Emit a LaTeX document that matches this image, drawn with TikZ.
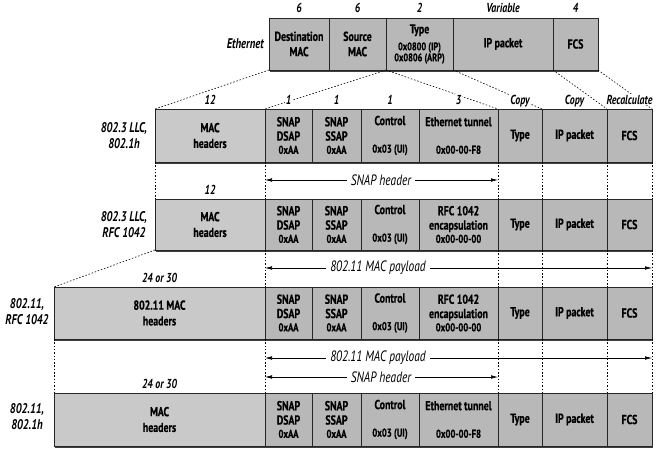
\documentclass[tikz,border=0pt]{standalone}
\usepackage{fontspec}
\newfontfamily\cf{PT Sans}[FakeStretch=0.76, BoldFeatures={FakeBold=0.6}]
\usetikzlibrary{shadows,arrows.meta}
\tikzset{
  fld/.style={draw=black!85, line width=0.8pt, fill=black!28, inner sep=0pt, outer sep=0pt,
    align=center, font=\cf\bfseries\fontsize{13}{14.3}\selectfont,
    drop shadow={shadow xshift=1.2pt, shadow yshift=-1.8pt, opacity=1, fill=black!75}},
  macfld/.style={fld, fill=black!21},
  num/.style={font=\cf\bfseries\itshape\fontsize{13}{15}\selectfont, inner sep=1pt, fill=white, anchor=base},
  rowlbl/.style={font=\cf\bfseries\itshape\fontsize{14}{15.5}\selectfont, align=center, inner sep=0pt},
  arlbl/.style={font=\cf\itshape\fontsize{15}{16}\selectfont, fill=white, inner xsep=4pt, inner ysep=1pt},
  dots/.style={line width=0.6pt, dash pattern=on 1.5pt off 1.8pt},
  dim/.style={line width=0.6pt, {Latex[length=7pt,width=3.6pt]}-{Latex[length=7pt,width=3.6pt]}},
}
\newcommand\sm{\fontsize{11.5}{12}\selectfont}
\newcommand\xs{\fontsize{11}{12}\selectfont}
% [style]{name}{x1}{x2}{ytop}{ybot}{text}
\newcommand\fieldbox[7][fld]{\node[#1, minimum width={(#4-#3)*1pt}, minimum height={(#6-#5)*1pt}, anchor=north west] (#2) at (#3,#5) {#7};}
\newcommand\toplbl[3]{\node[num] (#1) at ([yshift=5pt]#2.north) {#3};}
\begin{document}
\begin{tikzpicture}[x=1pt,y=-1pt]
\useasboundingbox (0,0) rectangle (660,452);
% Ethernet
\fieldbox{dst}{269}{329}{18}{70}{Destination\\[1pt]MAC}
\fieldbox{src}{329}{386}{18}{70}{Source\\[1pt]MAC}
\fieldbox{typ}{386}{453}{18}{70}{Type\\[2.5pt]{\xs 0x0800 (IP)}\\[-3.3pt]{\xs 0x0806 (ARP)}}
\fieldbox{ipE}{453}{553}{18}{70}{IP packet}
\fieldbox{fcsE}{553}{598}{18}{70}{FCS}
% Row 2
\fieldbox[macfld]{m2}{155}{265}{109}{162}{MAC\\[1.4pt]headers}
\fieldbox{dsap2}{265}{312}{109}{162}{SNAP\\DSAP\\[-1pt]{\sm 0xAA}}
\fieldbox{ssap2}{312}{361}{109}{162}{SNAP\\SSAP\\[-1pt]{\sm 0xAA}}
\fieldbox{ctl2}{361}{419}{109}{162}{Control\\\mbox{}\\[-1pt]{\sm 0x03 (UI)}}
\fieldbox{tun2}{419}{498}{109}{162}{Ethernet tunnel\\\mbox{}\\[-1pt]{\sm 0x00-00-F8}}
\fieldbox{type2}{498}{542}{109}{162}{Type}
\fieldbox{ip2}{542}{607}{109}{162}{IP packet}
\fieldbox{fcs2}{607}{652}{109}{162}{FCS}
% Row 3
\fieldbox[macfld]{m3}{155}{265}{199}{250}{MAC\\[1.4pt]headers}
\fieldbox{dsap3}{265}{312}{199}{250}{SNAP\\DSAP\\[-1pt]{\sm 0xAA}}
\fieldbox{ssap3}{312}{361}{199}{250}{SNAP\\SSAP\\[-1pt]{\sm 0xAA}}
\fieldbox{ctl3}{361}{419}{199}{250}{Control\\\mbox{}\\[-1pt]{\sm 0x03 (UI)}}
\fieldbox{tun3}{419}{498}{199}{250}{RFC 1042\\encapsulation\\[-1pt]{\sm 0x00-00-00}}
\fieldbox{type3}{498}{542}{199}{250}{Type}
\fieldbox{ip3}{542}{607}{199}{250}{IP packet}
\fieldbox{fcs3}{607}{652}{199}{250}{FCS}
% Row 4
\fieldbox[macfld]{m4}{54}{265}{287}{339}{802.11 MAC\\[1.4pt]headers}
\fieldbox{dsap4}{265}{312}{287}{339}{SNAP\\DSAP\\[-1pt]{\sm 0xAA}}
\fieldbox{ssap4}{312}{361}{287}{339}{SNAP\\SSAP\\[-1pt]{\sm 0xAA}}
\fieldbox{ctl4}{361}{419}{287}{339}{Control\\\mbox{}\\[-1pt]{\sm 0x03 (UI)}}
\fieldbox{tun4}{419}{498}{287}{339}{RFC 1042\\encapsulation\\[-1pt]{\sm 0x00-00-00}}
\fieldbox{type4}{498}{542}{287}{339}{Type}
\fieldbox{ip4}{542}{607}{287}{339}{IP packet}
\fieldbox{fcs4}{607}{652}{287}{339}{FCS}
% Row 5
\fieldbox[macfld]{m5}{54}{265}{393}{446}{MAC\\[1.4pt]headers}
\fieldbox{dsap5}{265}{312}{393}{446}{SNAP\\DSAP\\[-1pt]{\sm 0xAA}}
\fieldbox{ssap5}{312}{361}{393}{446}{SNAP\\SSAP\\[-1pt]{\sm 0xAA}}
\fieldbox{ctl5}{361}{419}{393}{446}{Control\\\mbox{}\\[-1pt]{\sm 0x03 (UI)}}
\fieldbox{tun5}{419}{498}{393}{446}{Ethernet tunnel\\\mbox{}\\[-1pt]{\sm 0x00-00-F8}}
\fieldbox{type5}{498}{542}{393}{446}{Type}
\fieldbox{ip5}{542}{607}{393}{446}{IP packet}
\fieldbox{fcs5}{607}{652}{393}{446}{FCS}
% dotted mapping lines
\draw[dots] (dst.south west) -- (m2.north west);
\draw[dots] (typ.south west) -- (dsap2.north west);
\draw[dots] (typ.south west) -- (type2.north west);
\draw[dots] (typ.south east) -- (type2.north east);
\draw[dots] (ipE.south east) -- (fcs2.north west);
\draw[dots] (fcsE.south east) -- (fcs2.north east);
\draw[dots] (m2.south west) -- (m3.north west);
\draw[dots] (m3.south west) -- (m4.north west);
\draw[dots] (m4.south west) -- (m5.north west);
\foreach \a/\b in {2/3,3/4,4/5}{
  \draw[dots] (dsap\a.south west) -- (dsap\b.north west);
  \draw[dots] (type\a.south west) -- (type\b.north west);
  \draw[dots] (ip\a.south west) -- (ip\b.north west);
  \draw[dots] (fcs\a.south west) -- (fcs\b.north west);
  \draw[dots] (fcs\a.south east) -- (fcs\b.north east);
}
% size labels
\toplbl{n1}{dst}{6}
\toplbl{n2}{src}{6}
\toplbl{n3}{typ}{2}
\toplbl{n4}{ipE}{Variable}
\toplbl{n5}{fcsE}{4}
\toplbl{n6}{m2}{12}
\toplbl{n7}{dsap2}{1}
\toplbl{n8}{ssap2}{1}
\toplbl{n9}{ctl2}{1}
\toplbl{n10}{tun2}{3}
\toplbl{n11}{type2}{Copy}
\toplbl{n12}{ip2}{Copy}
\toplbl{n13}{fcs2}{Recalculate}
\toplbl{n14}{m3}{12}
\toplbl{n15}{m4}{24 or 30}
\toplbl{n16}{m5}{24 or 30}
% row labels
\node[rowlbl, anchor=east] (lEth) at ([xshift=-5pt]dst.west) {Ethernet};
\node[rowlbl] (lr2) at ([xshift=-31pt]m2.west) {802.3 LLC,\\802.1h};
\node[rowlbl] (lr3) at ([xshift=-31pt]m3.west) {802.3 LLC,\\RFC 1042};
\node[rowlbl] (lr4) at ([xshift=-27pt,yshift=1.5pt]m4.west) {802.11,\\RFC 1042};
\node[rowlbl] (lr5) at ([xshift=-27pt,yshift=3pt]m5.west) {802.11,\\802.1h};
% dimension arrows
\coordinate (a1) at (381,180);
\draw[dim] (a1 -| dsap2.west) -- (a1 -| type2.west);
\node[arlbl] (t1) at (a1) {SNAP header};
\coordinate (a2) at (378,268);
\draw[dim] (a2 -| dsap3.west) -- (a2 -| fcs3.east);
\node[arlbl] (t2) at (a2) {802.11 MAC payload};
\coordinate (a3) at (378,358);
\draw[dim] (a3 -| dsap4.west) -- (a3 -| fcs4.east);
\node[arlbl] (t3) at (a3) {802.11 MAC payload};
\coordinate (a4) at (381,377);
\draw[dim] (a4 -| dsap4.west) -- (a4 -| type4.west);
\node[arlbl] (t4) at (a4) {SNAP header};
\end{tikzpicture}
\end{document}
